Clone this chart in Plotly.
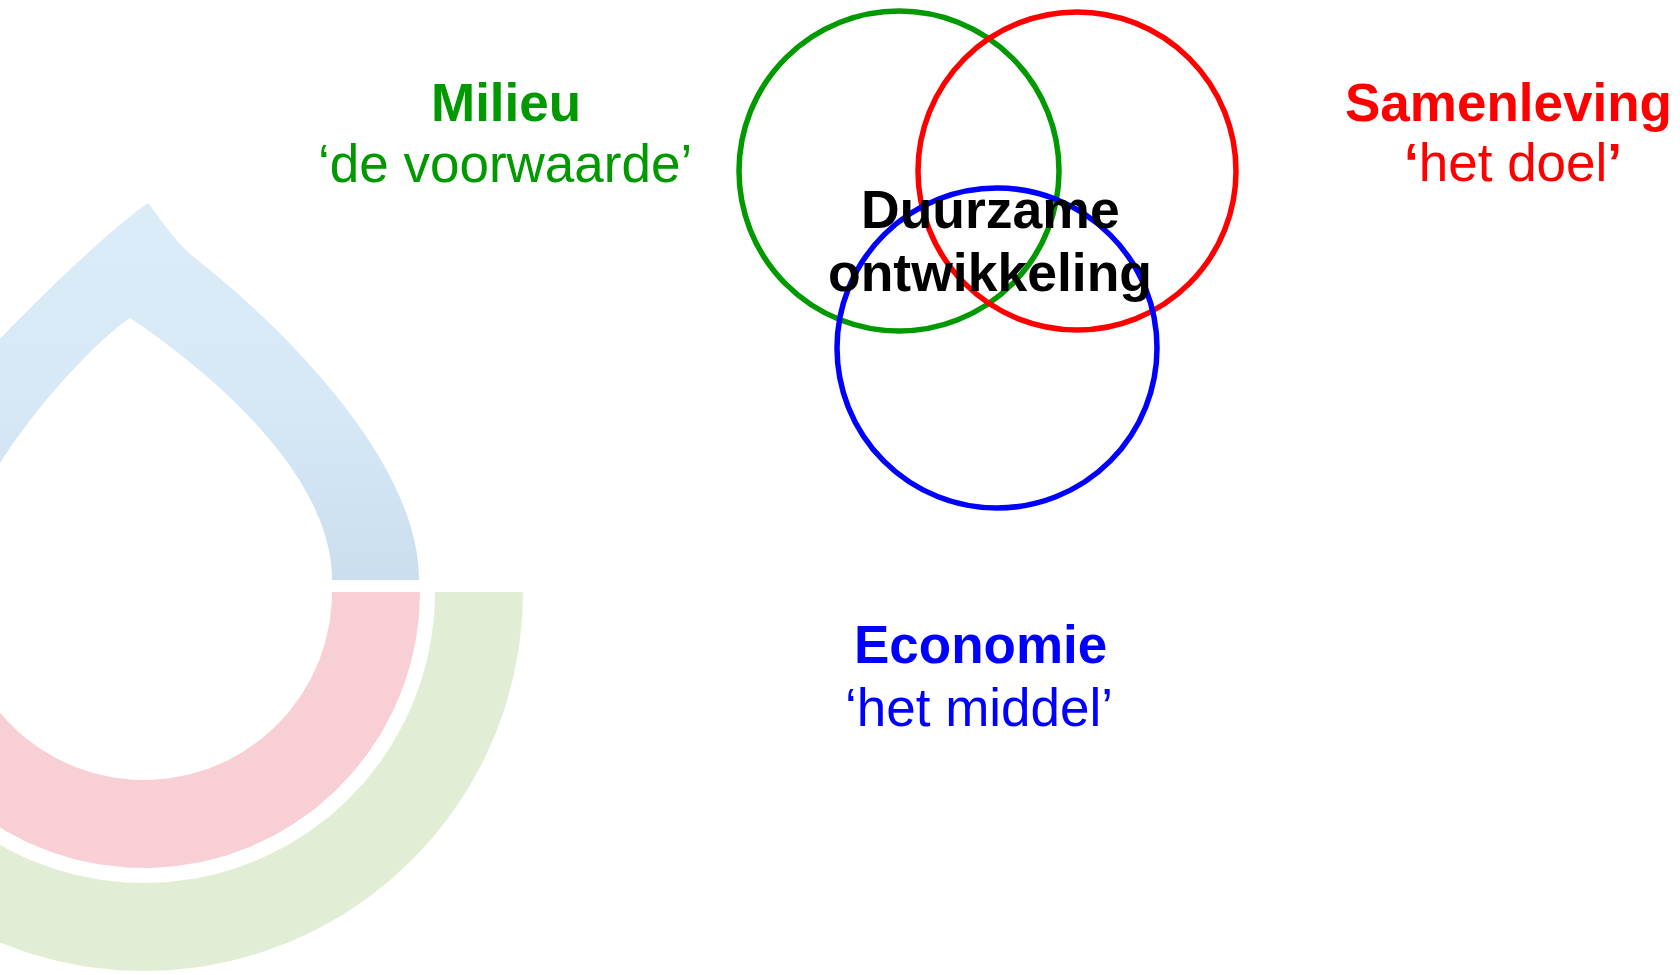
import numpy as np
import plotly.graph_objects as go

W, H = 1680, 975

# ---- Venn data ----
circle_names = ["Milieu", "Samenleving", "Economie"]
circle_subtitles = ["‘de voorwaarde’", "<b>‘</b>het doel<b>’</b>", "‘het middel’"]
circle_colors = ["#009900", "#ff0000", "#0000ff"]
circle_cx = [899, 1077, 997]
circle_cy = [171, 171, 348]
circle_r = [160, 159, 160]

label_x = [506, 1508, 980]
label_title_base = [121, 121, 663]
label_sub_x = [505, 1513, 979]
label_sub_base = [182, 181, 726]

center_lines = ["Duurzame", "ontwikkeling"]
center_x = 990
center_base = [228, 291]

FONT = "Liberation Sans, Arial, sans-serif"
FS = 53
FS_CENTER = 53.5

# ---- background logo data (outline control points) ----
ring_center = (144, 592)
pink_r = (188, 276)
green_r = (291, 379)
outer_right_beziers = [
    [(419, 580), (419, 460), (280, 325), (195, 258)],
    [(195, 258), (173.75, 241.25), (158, 215), (148, 203)],
]
outer_left_beziers = [
    [(148, 203), (115, 226), (50, 285), (-30, 370)],
    [(-30, 370), (-80, 430), (-120, 500), (-128, 580)],
]
inner_left_beziers = [
    [(-45, 580), (-30, 530), (-10, 480), (0, 463)],
    [(0, 463), (40, 400), (100, 338), (130, 318)],
]
inner_right_beziers = [
    [(130, 318), (200, 365), (332, 470), (332, 580)],
]


def bezier(ctrl, n=60):
    p = np.array(ctrl, dtype=float)
    t = np.linspace(0, 1, n)[:, None]
    return ((1 - t) ** 3) * p[0] + 3 * ((1 - t) ** 2) * t * p[1] + 3 * (1 - t) * t ** 2 * p[2] + t ** 3 * p[3]


def chain(beziers):
    return np.vstack([bezier(b) for b in beziers])


def half_ring(cx, cy, r_in, r_out, n=240):
    t = np.linspace(0, np.pi, n)
    xo = cx + r_out * np.cos(t)
    yo = cy + r_out * np.sin(t)
    xi = cx + r_in * np.cos(t[::-1])
    yi = cy + r_in * np.sin(t[::-1])
    return np.concatenate([xo, xi, xo[:1]]), np.concatenate([yo, yi, yo[:1]])


fig = go.Figure()

gx, gy = half_ring(ring_center[0], ring_center[1], *green_r)
fig.add_trace(go.Scatter(x=gx, y=gy, fill="toself", fillcolor="#e2edd5", line=dict(width=0),
                         mode="lines", hoverinfo="skip"))
px_, py_ = half_ring(ring_center[0], ring_center[1], *pink_r)
fig.add_trace(go.Scatter(x=px_, y=py_, fill="toself", fillcolor="#f8cfd4", line=dict(width=0),
                         mode="lines", hoverinfo="skip"))

seg = np.vstack([chain(outer_right_beziers), chain(outer_left_beziers),
                 chain(inner_left_beziers), chain(inner_right_beziers)])
seg = np.vstack([seg, seg[:1]])
fig.add_trace(go.Scatter(x=seg[:, 0], y=seg[:, 1], fill="toself", line=dict(width=0, simplify=False),
                         mode="lines", hoverinfo="skip", fillcolor="#d5e7f5",
                         fillgradient=dict(type="vertical", start=203, stop=580,
                                           colorscale=[[0, "#dbecf8"], [0.5, "#d7e9f6"], [1, "#cbdeef"]])))

shapes = []
for cx, cy, r, c in zip(circle_cx, circle_cy, circle_r, circle_colors):
    shapes.append(dict(type="circle", xref="x", yref="y", x0=cx - r, x1=cx + r, y0=cy - r, y1=cy + r,
                       line=dict(color=c, width=5.5), fillcolor="rgba(0,0,0,0)", layer="above"))

ann = []
off = 0.3465 * FS
for name, sub, c, lx, tb, sx, sb in zip(circle_names, circle_subtitles, circle_colors, label_x,
                                         label_title_base, label_sub_x, label_sub_base):
    ann.append(dict(x=lx, y=tb - off, text=f"<b>{name}</b>", showarrow=False, xref="x", yref="y",
                    xanchor="center", yanchor="middle", font=dict(family=FONT, size=FS, color=c)))
    ann.append(dict(x=sx, y=sb - off, text=sub, showarrow=False, xref="x", yref="y",
                    xanchor="center", yanchor="middle", font=dict(family=FONT, size=FS, color=c)))
offc = 0.3465 * FS_CENTER
for t, b in zip(center_lines, center_base):
    ann.append(dict(x=center_x, y=b - offc, text=f"<b>{t}</b>", showarrow=False, xref="x", yref="y",
                    xanchor="center", yanchor="middle",
                    font=dict(family=FONT, size=FS_CENTER, color="#000000")))

fig.update_layout(
    width=W, height=H, margin=dict(l=0, r=0, t=0, b=0),
    paper_bgcolor="white", plot_bgcolor="white", showlegend=False,
    xaxis=dict(range=[0, W], visible=False, fixedrange=True),
    yaxis=dict(range=[H, 0], visible=False, fixedrange=True),
    shapes=shapes, annotations=ann,
)
fig.write_html("out.html", config={"displayModeBar": False},
               post_script="document.body.style.margin='0px';document.body.style.overflow='hidden';")
